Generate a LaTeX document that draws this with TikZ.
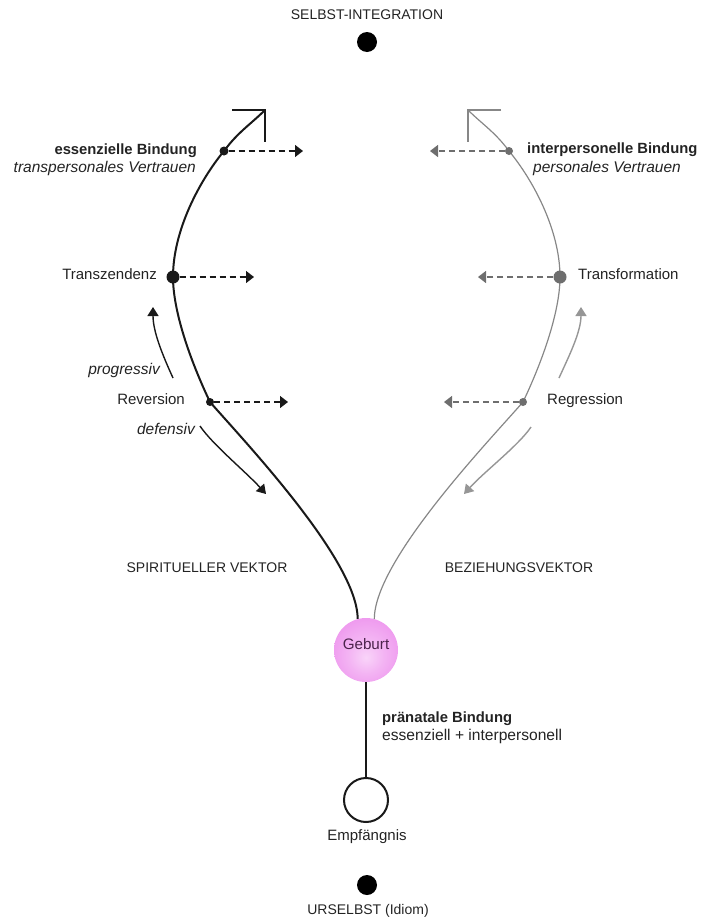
\documentclass[tikz,border=0pt]{standalone}
\usepackage{fontspec}
\setmainfont{Liberation Sans}
\usetikzlibrary{arrows.meta}
\definecolor{ink}{RGB}{25,25,25}
\definecolor{txtc}{RGB}{35,35,35}
\definecolor{grayline}{RGB}{135,135,135}
\definecolor{graydot}{RGB}{110,110,110}
\definecolor{grayarrow}{RGB}{150,150,150}
\definecolor{pinkOuter}{RGB}{236,140,236}
\definecolor{pinkInner}{RGB}{249,212,249}
\definecolor{gebtext}{RGB}{75,35,75}
\pgfdeclareradialshading{geburtshade}{\pgfpoint{0bp}{-6bp}}{%
  color(0bp)=(pinkInner); color(14bp)=(pinkInner!55!pinkOuter); color(36bp)=(pinkOuter); color(50bp)=(pinkOuter)}
\begin{document}
\begin{tikzpicture}[x=1pt,y=-1pt,
  txt/.style={inner sep=0pt, font=\fontsize{15}{17}\selectfont, text=txtc},
  boldtxt/.style={inner sep=0pt, font=\fontsize{14.8}{17}\selectfont\bfseries, text=txtc},
  ittxt/.style={inner sep=0pt, font=\fontsize{15.5}{17}\selectfont\itshape, text=txtc},
  capstxt/.style={inner sep=0pt, font=\fontsize{14}{17}\selectfont, text=txtc},
  bigdot/.style={circle, fill=black, inner sep=0pt, minimum size=20pt},
  blackdot/.style={circle, fill=ink, inner sep=0pt, minimum size=#1},
  graydotst/.style={circle, fill=graydot, inner sep=0pt, minimum size=#1},
  spiritline/.style={draw=ink, line width=2pt},
  relline/.style={draw=grayline, line width=1.2pt},
  dasharrowL/.style={draw=ink, line width=1.3pt, dash pattern=on 6pt off 4pt, -{Triangle[length=8pt,width=12pt]}},
  dasharrowR/.style={draw=graydot, line width=1.3pt, dash pattern=on 6pt off 4pt, -{Triangle[length=8pt,width=12pt]}},
  sidearrowL/.style={draw=ink, line width=1.4pt, -{Triangle[length=9pt,width=11pt]}},
  sidearrowR/.style={draw=grayarrow, line width=1.4pt, -{Triangle[length=9pt,width=11pt]}},
]
\useasboundingbox (0,0) rectangle (701,924);

% top and bottom
\node[capstxt, anchor=center] (selbst) at (367,15) {SELBST-INTEGRATION};
\node[bigdot] (topdot) at (367,42) {};
\node[bigdot] (botdot) at (367,885) {};
\node[capstxt, anchor=center] (ursel) at (368,911) {URSELBST (Idiom)};

% Geburt and Empfaengnis
\node[circle, inner sep=0pt, minimum size=64pt, shading=geburtshade] (geb) at (366,650) {};
\node[txt, anchor=mid, text=gebtext, font=\fontsize{15.2}{17}\selectfont] (gebtxt) at (366,647) {Geburt};
\node[circle, draw=ink, line width=2pt, fill=white, inner sep=0pt, minimum size=44pt] (emp) at (366,800) {};
\node[txt, anchor=mid] (emptxt) at (367,838) {Empfängnis};
\draw[spiritline] (geb.south) -- (emp.north);
\node[boldtxt, anchor=mid west] (pran1) at (382,720) {pränatale Bindung};
\node[txt, anchor=mid west, font=\fontsize{15.6}{17}\selectfont] (pran2) at (382,738) {essenziell + interpersonell};

% point coordinates
\coordinate (revP) at (210,402);
\coordinate (transP) at (173,277);
\coordinate (essP) at (224,151);
\coordinate (tipL) at (265,110);
\coordinate (headLa) at (232,110);
\coordinate (headLb) at (265,142);
\coordinate (regP) at (523,402);
\coordinate (transfP) at (560,277);
\coordinate (interP) at (509,151);
\coordinate (tipR) at (468,110);
\coordinate (headRa) at (501,110);
\coordinate (headRb) at (468,142);

% main curves
\draw[spiritline] (geb.105) .. controls +(0,-58) and +(35,40) .. (revP)
  .. controls +(-20,-42) and +(0,34) .. (transP)
  .. controls +(0,-47) and +(-24,29) .. (essP)
  .. controls +(14,-19) and +(-14,14) .. (tipL);
\draw[spiritline] (headLa) -- (tipL) -- (headLb);
\draw[relline] (geb.75) .. controls +(0,-58) and +(-35,40) .. (regP)
  .. controls +(20,-42) and +(0,34) .. (transfP)
  .. controls +(0,-47) and +(24,29) .. (interP)
  .. controls +(-14,-19) and +(14,14) .. (tipR);
\draw[relline] (headRa) -- (tipR) -- (headRb);

% dots
\node[blackdot=8pt] (rev) at (revP) {};
\node[blackdot=13pt] (trans) at (transP) {};
\node[blackdot=9pt] (ess) at (essP) {};
\node[graydotst=8pt] (reg) at (regP) {};
\node[graydotst=13pt] (transf) at (transfP) {};
\node[graydotst=8pt] (inter) at (interP) {};

% dashed arrows
\coordinate (essT) at (303,151);
\coordinate (transT) at (254,277);
\coordinate (revT) at (288,402);
\coordinate (interT) at (430,151);
\coordinate (transfT) at (478,277);
\coordinate (regT) at (444,402);
\draw[dasharrowL] (ess) -- (essT);
\draw[dasharrowL] (trans) -- (transT);
\draw[dasharrowL] (rev) -- (revT);
\draw[dasharrowR] (inter) -- (interT);
\draw[dasharrowR] (transf) -- (transfT);
\draw[dasharrowR] (reg) -- (regT);

% side arrows
\coordinate (progA) at (173,378);
\coordinate (progB) at (153,307);
\coordinate (defA) at (200,426);
\coordinate (defB) at (266,494);
\coordinate (rupA) at (559,378);
\coordinate (rupB) at (581,307);
\coordinate (rdnA) at (531,427);
\coordinate (rdnB) at (464,494);
\draw[sidearrowL] (progA) .. controls +(-10,-22) and +(0,25) .. (progB);
\draw[sidearrowL] (defA) .. controls +(12,18) and +(-20,-22) .. (defB);
\draw[sidearrowR] (rupA) .. controls +(10,-22) and +(0,25) .. (rupB);
\draw[sidearrowR] (rdnA) .. controls +(-12,18) and +(20,-22) .. (rdnB);

% labels
\node[boldtxt, anchor=mid east] (essB) at (197,152) {essenzielle Bindung};
\node[ittxt, anchor=mid east] (essV) at (196,170) {transpersonales Vertrauen};
\node[txt, anchor=mid east] (transL) at (157,277) {Transzendenz};
\node[ittxt, anchor=mid east] (progL) at (160,372) {progressiv};
\node[txt, anchor=mid east] (revL) at (185,402) {Reversion};
\node[ittxt, anchor=mid east] (defL) at (195,432) {defensiv};
\node[boldtxt, anchor=mid west] (interB) at (527,151) {interpersonelle Bindung};
\node[ittxt, anchor=mid west] (interV) at (533,170) {personales Vertrauen};
\node[txt, anchor=mid west] (transfL) at (578,277) {Transformation};
\node[txt, anchor=mid west] (regL) at (547,402) {Regression};
\node[capstxt, anchor=center] (spirit) at (207,568) {SPIRITUELLER VEKTOR};
\node[capstxt, anchor=center] (bez) at (519,568) {BEZIEHUNGSVEKTOR};
\end{tikzpicture}
\end{document}
